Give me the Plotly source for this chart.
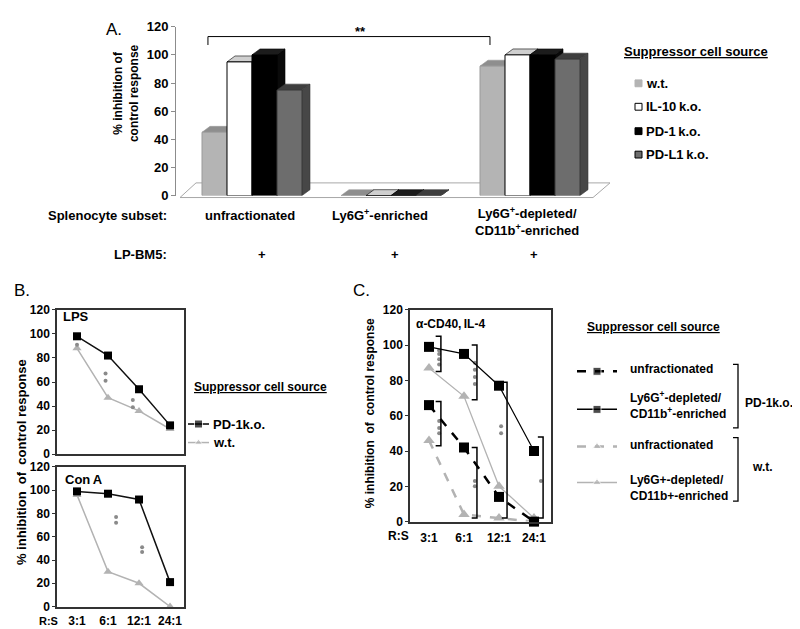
import plotly.graph_objects as go

W, H = 800, 629
FONT = "Liberation Sans, Arial, sans-serif"

# ---------------- Panel A data ----------------
a_categories = ["unfractionated", "Ly6G<sup>+</sup>-enriched",
                "Ly6G<sup>+</sup>-depleted/<br>CD11b<sup>+</sup>-enriched"]
a_series_names = ["w.t.", "IL-10 k.o.", "PD-1 k.o.", "PD-L1 k.o."]
a_wt = [45, 0, 92]
a_il10 = [95, 0, 100]
a_pd1 = [100, 0, 100]
a_pdl1 = [75, 0, 97]
a_yticks = [0, 20, 40, 60, 80, 100, 120]
a_lpbm5 = ["+", "+", "+"]

# ---------------- Panel B data ----------------
ratios = ["3:1", "6:1", "12:1", "24:1"]
lps_pd1 = [98, 82, 54, 24]
lps_wt = [88, 47, 36, 21]
lps_sig_ratio = ["3:1", "6:1", "6:1", "12:1", "12:1"]
lps_sig_val = [91, 67, 61, 45, 39]
cona_pd1 = [99, 97, 92, 21]
cona_wt = [96, 30, 20, 0]
cona_sig_ratio = ["6:1", "6:1", "12:1", "12:1"]
cona_sig_val = [77, 72, 51, 47]
bc_yticks = [0, 20, 40, 60, 80, 100, 120]

# ---------------- Panel C data ----------------
c_pd1_unfr = [66, 42, 14, 0]
c_pd1_depl = [99, 95, 77, 40]
c_wt_unfr = [46, 4, 2, 0]
c_wt_depl = [87, 71, 20, 2]
c_brk_ratio = ["3:1", "3:1", "6:1", "6:1", "12:1", "24:1"]
c_brk_hi = [105, 68, 100, 42, 79, 48]
c_brk_lo = [85, 43, 69, 2, 2, 2]
c_sig_ratio = ["3:1"] * 7 + ["6:1"] * 6 + ["12:1"] * 2 + ["24:1"]
c_sig_val = [97, 95, 92, 89, 57, 53, 50, 90, 86, 82, 78, 23, 20, 54, 50, 23]

# ---------------- style / geometry ----------------
def dx_(a, b):
    return [a / W, b / W]

def dy_(top, bottom):
    return [1 - bottom / H, 1 - top / H]

A_SP = 139.0
A_C0 = 244.0
A_BW = 25 / A_SP
A_DX = 8 / A_SP
A_DY = 4.2

front_col = ["#b4b4b4", "#ffffff", "#000000", "#6d6d6d"]
top_col = ["#8e8e8e", "#cfcfcf", "#1c1c1c", "#3e3e3e"]
side_col = ["#979797", "#bdbdbd", "#0a0a0a", "#474747"]
edge_col = ["#9a9a9a", "#000000", "#000000", "#3a3a3a"]

fig = go.Figure()

# ---- Panel A : 3-D faces (base axis) then fronts (overlay axis) ----
a_vals = [a_wt, a_il10, a_pd1, a_pdl1]
for k, vals in enumerate(a_vals):
    off = (k - 1.5) * A_BW
    sx, sy, tx, ty = [], [], [], []
    for i, v in enumerate(vals):
        x0 = i + off - A_BW / 2
        x1 = i + off + A_BW / 2
        sx += [x1, x1 + A_DX, x1 + A_DX, x1, x1, None]
        sy += [0, A_DY, v + A_DY, v, 0, None]
        tx += [x0, x0 + A_DX, x1 + A_DX, x1, x0, None]
        ty += [v, v + A_DY, v + A_DY, v, v, None]
    fig.add_trace(go.Scatter(x=sx, y=sy, fill="toself", fillcolor=side_col[k], mode="lines",
                             line=dict(color=edge_col[k], width=0.6), hoverinfo="skip",
                             showlegend=False, xaxis="x", yaxis="y"))
    fig.add_trace(go.Scatter(x=tx, y=ty, fill="toself", fillcolor=top_col[k], mode="lines",
                             line=dict(color=edge_col[k], width=0.6), hoverinfo="skip",
                             showlegend=False, xaxis="x", yaxis="y"))
for k, vals in enumerate(a_vals):
    off = (k - 1.5) * A_BW
    fig.add_trace(go.Bar(x=[i + off for i in range(len(vals))], y=vals, width=A_BW,
                         name=a_series_names[k],
                         marker=dict(color=front_col[k], line=dict(color=edge_col[k], width=1)),
                         showlegend=False, xaxis="x2", yaxis="y2"))

# ---- Panel B ----
B_OFF_LPS = {"3:1": 0.0, "6:1": -0.08, "12:1": -0.2}
B_OFF_CONA = {"6:1": 0.26, "12:1": 0.1}
xs = list(range(len(ratios)))
for (pd1, wt, sr, sv, offs, xa, ya) in [
        (lps_pd1, lps_wt, lps_sig_ratio, lps_sig_val, B_OFF_LPS, "x3", "y3"),
        (cona_pd1, cona_wt, cona_sig_ratio, cona_sig_val, B_OFF_CONA, "x4", "y4")]:
    fig.add_trace(go.Scatter(x=xs, y=wt, mode="lines+markers",
                             line=dict(color="#b3b3b3", width=1.5),
                             marker=dict(symbol="triangle-up", size=8, color="#b3b3b3"),
                             cliponaxis=False, showlegend=False, xaxis=xa, yaxis=ya))
    fig.add_trace(go.Scatter(x=xs, y=pd1, mode="lines+markers",
                             line=dict(color="#111111", width=1.5),
                             marker=dict(symbol="square", size=8, color="#000000"),
                             cliponaxis=False, showlegend=False, xaxis=xa, yaxis=ya))
    fig.add_trace(go.Scatter(x=[ratios.index(r) + offs[r] for r in sr], y=sv, mode="markers",
                             marker=dict(symbol="circle", size=4, color="#8a8a8a"),
                             showlegend=False, xaxis=xa, yaxis=ya))

# ---- Panel C ----
C_DOT_OFF = {"3:1": 0.29, "6:1": 0.31, "12:1": 0.06, "24:1": 0.2}
C_BRK_OFF = {"3:1": 0.34, "6:1": 0.37, "12:1": 0.23, "24:1": 0.26}
C_BRK_TICK = 0.15
fig.add_trace(go.Scatter(x=[ratios.index(r) + C_DOT_OFF[r] for r in c_sig_ratio], y=c_sig_val,
                         mode="markers", marker=dict(symbol="circle", size=4, color="#8a8a8a"),
                         showlegend=False, xaxis="x5", yaxis="y5"))
c_lines = [
    (c_wt_unfr, "#b3b3b3", "dash", 2.5, "triangle-up"),
    (c_wt_depl, "#b3b3b3", "solid", 1.3, "triangle-up"),
    (c_pd1_unfr, "#000000", "dash", 2.5, "square"),
    (c_pd1_depl, "#000000", "solid", 1.2, "square"),
]
for vals, col, dash, lw, sym in c_lines:
    fig.add_trace(go.Scatter(x=xs, y=vals, mode="lines+markers",
                             line=dict(color=col, width=lw, dash=dash),
                             marker=dict(symbol=sym, size=10, color=col),
                             cliponaxis=False, showlegend=False, xaxis="x5", yaxis="y5"))

shapes = []
for r, hi, lo in zip(c_brk_ratio, c_brk_hi, c_brk_lo):
    bx = ratios.index(r) + C_BRK_OFF[r]
    shapes.append(dict(type="path", xref="x5", yref="y5",
                       path=f"M {bx - C_BRK_TICK},{hi} L {bx},{hi} L {bx},{lo} L {bx - C_BRK_TICK},{lo}",
                       line=dict(color="#000000", width=1.5)))

# ---- pixel overlay axis for legend samples ----
def legend_sample(x0, x1, y, col, dash, lw, sym, msize):
    fig.add_trace(go.Scatter(x=[x0, (x0 + x1) / 2, x1], y=[y, y, y], mode="lines+markers",
                             line=dict(color=col, width=lw, dash=dash),
                             marker=dict(symbol=sym, size=[0, msize, 0], color=col),
                             showlegend=False, xaxis="x6", yaxis="y6", hoverinfo="skip"))

legend_sample(180, 201, 419, "#000000", "solid", 1.5, "square", 8)
legend_sample(180, 201, 438, "#b3b3b3", "solid", 1.5, "triangle-up", 7)
legend_sample(569, 609, 365, "#000000", "dash", 2.5, "square", 8)
legend_sample(569, 609, 404, "#000000", "solid", 1.5, "square", 8)
legend_sample(569, 609, 442, "#b3b3b3", "dash", 2.5, "triangle-up", 8)
legend_sample(569, 609, 479, "#b3b3b3", "solid", 1.5, "triangle-up", 8)

# ---- shapes: floor, significance bracket, legend swatches / brackets ----
def P(x, y):
    return f"{x / W},{1 - y / H}"

shapes.append(dict(type="path", xref="paper", yref="paper", layer="below",
                   path=f"M {P(172, 187)} L {P(585, 187)} L {P(602, 172)} L {P(188, 172)} Z",
                   fillcolor="white", line=dict(color="#a8a8a8", width=1)))
shapes.append(dict(type="path", xref="x", yref="y",
                   path="M -0.317,107 L -0.317,113 L 1.712,113 L 1.712,107",
                   line=dict(color="#000000", width=1)))
sw_fill = ["#b4b4b4", "#ffffff", "#000000", "#6d6d6d"]
sw_line = ["#b4b4b4", "#000000", "#000000", "#000000"]
for k, yy in enumerate([70, 94, 119, 143]):
    shapes.append(dict(type="rect", xref="paper", yref="paper",
                       x0=627 / W, x1=634 / W, y0=1 - (yy + 3.5) / H, y1=1 - (yy - 3.5) / H,
                       fillcolor=sw_fill[k], line=dict(color=sw_line[k], width=1)))
for (t, b) in [(358, 423), (433, 498)]:
    shapes.append(dict(type="path", xref="paper", yref="paper",
                       path=f"M {P(725, t)} L {P(730, t)} L {P(730, b)} L {P(725, b)}",
                       line=dict(color="#000000", width=1.3)))

# ---- annotations ----
anns = []

def T(text, x, y, size=13, bold=True, xa="center", ya="middle", angle=0, color="black",
      under=False, align="center"):
    f = dict(family=FONT, size=size, color=color, weight="bold" if bold else "normal")
    if under:
        f["lineposition"] = "under"
    anns.append(dict(text=text, x=x / W, y=1 - y / H, xref="paper", yref="paper",
                     xanchor=xa, yanchor=ya, showarrow=False, textangle=angle, font=f,
                     align=align))

# Panel A texts
T("A.", 96, 15, size=17, bold=False, xa="left")
T("% inhibition of<br>control response", 118, 80, size=12, angle=-90)
T("**", 352, 17, size=13)
T("Splenocyte subset:", 161, 205, xa="right")
T("LP-BM5:", 161, 245, xa="right")
for cat, cx in zip(a_categories, [242, 372, 519]):
    T(cat, cx, 212 if "<br>" in cat else 205)
for p, cx in zip(a_lpbm5, [254, 387, 526]):
    T(p, cx, 245)
T("Suppressor cell source", 614, 37, xa="left", under=True)
for name, yy in zip(a_series_names, [70, 94, 119, 143]):
    T(name.replace(" ", "\u2009"), 636, yy, xa="left")

# Panel B texts
T("B.", 4, 282, size=17, bold=False, xa="left")
T("LPS", 53, 309, xa="left")
T("Con\u2009A", 55, 476, xa="left")
T("%\u00a0inhibition\u00a0\u00a0of\u00a0\u00a0control\u00a0response", 13, 458, size=13, angle=-90)
T("R:S", 40, 621, size=11)
T("Suppressor cell source", 184, 381, size=12, xa="left", under=True)
T("PD-1k.o.", 203, 419, size=13, xa="left")
T("w.t.", 203, 438, size=13, xa="left")

# Panel C texts
T("C.", 343, 282, size=17, bold=False, xa="left")
T("%\u00a0inhibition\u00a0\u00a0of\u00a0\u00a0control\u00a0response", 362, 408, size=12, angle=-90)
T("\u03b1-CD40,\u2009IL-4", 406, 317, size=12, xa="left")
T("R:S", 390, 534, size=12)
T("Suppressor cell source", 577, 320, size=12, xa="left", under=True)
T("unfractionated", 620, 363, size=12, xa="left", align="left")
T("Ly6G<sup>+</sup>-depleted/<br>CD11b<sup>+</sup>-enriched", 620, 400, size=12, xa="left", align="left")
T("unfractionated", 620, 441, size=12, xa="left", align="left")
T("Ly6G+-depleted/<br>CD11b+-enriched", 620, 485, size=12, xa="left", align="left")
T("PD-1k.o.", 735, 397, size=12, xa="left")
T("w.t.", 742, 463, size=12, xa="left")

# ---- axes ----
tf13 = dict(family=FONT, size=13, color="black", weight="bold")
tf12 = dict(family=FONT, size=12, color="black", weight="bold")
a_xrange = [(168 - A_C0) / A_SP, (612 - A_C0) / A_SP]
box = dict(showline=True, mirror=True, linecolor="#333333", linewidth=1.5,
           showgrid=False, zeroline=False)

layout = dict(
    width=W, height=H, margin=dict(l=0, r=0, t=0, b=0),
    paper_bgcolor="white", plot_bgcolor="rgba(0,0,0,0)",
    showlegend=False, barmode="overlay",
    xaxis=dict(domain=dx_(168, 612), range=a_xrange, visible=False, fixedrange=True),
    yaxis=dict(domain=dy_(12, 185), range=[0, 120], tickvals=a_yticks, tickfont=tf13,
               showline=True, linecolor="#8c8c8c", linewidth=1, ticks="outside", ticklen=4,
               tickcolor="#8c8c8c", showgrid=False, zeroline=False, fixedrange=True),
    xaxis2=dict(overlaying="x", range=a_xrange, visible=False, anchor="y2"),
    yaxis2=dict(overlaying="y", range=[0, 120], visible=False, anchor="x2"),
    xaxis3=dict(domain=dx_(49, 176), range=[-0.645, 3.45], anchor="y3", showticklabels=False, **box),
    yaxis3=dict(domain=dy_(302, 450), range=[0, 120], anchor="x3", tickvals=bc_yticks, tickfont=tf12,
                ticks="outside", ticklen=3, tickcolor="#333333", **box),
    xaxis4=dict(domain=dx_(49, 176), range=[-0.645, 3.45], anchor="y4", tickvals=xs, ticktext=ratios,
                tickfont=tf12, ticklabelstandoff=2, **box),
    yaxis4=dict(domain=dy_(463, 606), range=[0, 120], anchor="x4", tickvals=bc_yticks, tickfont=tf12,
                ticks="outside", ticklen=3, tickcolor="#333333", **box),
    xaxis5=dict(domain=dx_(402, 543), range=[-0.543, 3.486], anchor="y5", tickvals=xs, ticktext=ratios,
                tickfont=tf12, ticklabelstandoff=4, **box),
    yaxis5=dict(domain=dy_(302, 519), range=[0, 120], anchor="x5", tickvals=bc_yticks, tickfont=tf12,
                ticks="outside", ticklen=3, tickcolor="#333333", **box),
    xaxis6=dict(domain=[0, 1], range=[0, W], visible=False, anchor="y6", fixedrange=True),
    yaxis6=dict(domain=[0, 1], range=[H, 0], visible=False, anchor="x6", fixedrange=True),
    shapes=shapes, annotations=anns,
)
fig.update_layout(**layout)
fig.write_html("out.html")
